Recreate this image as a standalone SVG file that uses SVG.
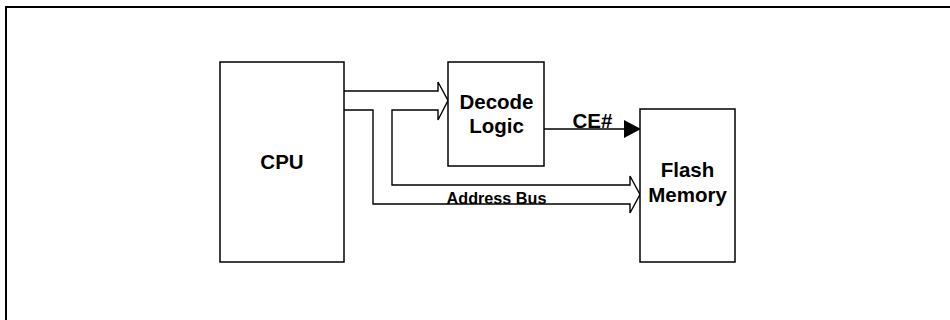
<svg xmlns="http://www.w3.org/2000/svg" width="950" height="320" viewBox="0 0 950 320">
<style>
.box{fill:#fff;stroke:#000;stroke-width:1.5}
.bus{fill:none;stroke:#000;stroke-width:1.4}
.t{font-family:"Liberation Sans",Arial,sans-serif;font-weight:bold;fill:#000;text-anchor:middle}
.big{font-size:20.5px}
.small{font-size:16.2px}
</style>
<rect width="950" height="320" fill="#fff"/>
<path d="M6,320 V7 H950" fill="none" stroke="#000" stroke-width="2"/>
<g id="connectors">
<polyline class="bus" points="344,91 438,91 438,82 448,100.5 438,120 438,110 392,110 392,185 630,185 630,176 640,194.5 630,213 630,204 373,204 373,110 344,110"/>
<line x1="544" y1="129" x2="625" y2="129" stroke="#000" stroke-width="1.4"/>
<polygon points="624,120 641,129 624,138" fill="#000"/>
<text class="t big" x="592.5" y="128">CE#</text>
<text class="t small" x="496.5" y="204">Address Bus</text>
</g>
<g id="cpu">
<rect class="box" x="220" y="62" width="124" height="200"/>
<text class="t big" x="282" y="169">CPU</text>
</g>
<g id="decode">
<rect class="box" x="448" y="62" width="96" height="104"/>
<text class="t big" x="496.5" y="109">Decode</text>
<text class="t big" x="496.5" y="133">Logic</text>
</g>
<g id="flash">
<rect class="box" x="640" y="109" width="95" height="153"/>
<text class="t big" x="687.5" y="177">Flash</text>
<text class="t big" x="687.5" y="202">Memory</text>
</g>
</svg>
